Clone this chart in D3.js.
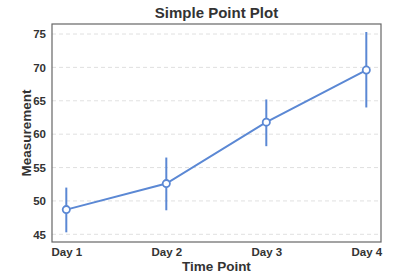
<!DOCTYPE html>
<html>
<head>
<meta charset="utf-8">
<script src="https://cdn.jsdelivr.net/npm/d3@7"></script>
<style>
  body { margin: 0; background: #fff; }
  text { font-family: "Liberation Sans", Arial, sans-serif; }
</style>
</head>
<body>
<svg id="chart" width="400" height="280"></svg>
<script>
// data
const days = ["Day 1", "Day 2", "Day 3", "Day 4"];
const means = [48.7, 52.6, 61.8, 69.6];
const lows = [45.3, 48.6, 58.2, 64.0];
const highs = [52.0, 56.5, 65.2, 75.3];
const yTicks = [45, 50, 55, 60, 65, 70, 75];

const svg = d3.select("#chart");
const margin = { left: 52, right: 19, top: 24, bottom: 38 };
const width = 400 - margin.left - margin.right,
  height = 280 - margin.top - margin.bottom;
const color = "#5b88d4";

const g = svg.append("g").attr("transform", `translate(${margin.left},${margin.top})`);

// x: categories with a small margin on each side
const x = d3.scaleLinear().domain([-0.143, 3.147]).range([0, width]);
const y = d3.scaleLinear().domain([43.85, 76.5]).range([height, 0]);

// grid lines
g.selectAll("line.grid")
  .data(yTicks)
  .join("line")
  .attr("class", "grid")
  .attr("x1", 0).attr("x2", width)
  .attr("y1", d => y(d)).attr("y2", d => y(d))
  .attr("stroke", "#d8d8d8")
  .attr("stroke-dasharray", "4,3")
  .attr("stroke-width", 0.8);

// axes
const yAxis = g.append("g").call(d3.axisLeft(y).tickValues(yTicks).tickSize(0).tickPadding(6));
const xAxis = g.append("g").attr("transform", `translate(0,${height})`)
  .call(d3.axisBottom(x).tickValues(d3.range(days.length)).tickFormat(i => days[i]).tickSize(0).tickPadding(6));
[yAxis, xAxis].forEach(a => {
  a.select(".domain").remove();
  a.selectAll("text").attr("fill", "#333").style("font-size", "11.5px").style("font-weight", "bold");
});

// frame
g.append("rect").attr("width", width).attr("height", height)
  .attr("fill", "none").attr("stroke", "#666").attr("stroke-width", 1.2);

// error bars
g.selectAll("line.err")
  .data(days)
  .join("line")
  .attr("class", "err")
  .attr("x1", (d, i) => x(i)).attr("x2", (d, i) => x(i))
  .attr("y1", (d, i) => y(lows[i])).attr("y2", (d, i) => y(highs[i]))
  .attr("stroke", color).attr("stroke-width", 2);

// connecting line
g.append("path")
  .datum(means)
  .attr("d", d3.line().x((d, i) => x(i)).y(d => y(d)))
  .attr("fill", "none").attr("stroke", color).attr("stroke-width", 2);

// points
g.selectAll("circle")
  .data(means)
  .join("circle")
  .attr("cx", (d, i) => x(i)).attr("cy", d => y(d))
  .attr("r", 3.6)
  .attr("fill", "#fff").attr("stroke", color).attr("stroke-width", 1.8);

// title and labels
svg.append("text").attr("x", margin.left + width / 2).attr("y", 18)
  .attr("text-anchor", "middle").attr("fill", "#333")
  .style("font-size", "15px").style("font-weight", "bold").text("Simple Point Plot");
svg.append("text").attr("x", margin.left + width / 2).attr("y", 271)
  .attr("text-anchor", "middle").attr("fill", "#333")
  .style("font-size", "13.5px").style("font-weight", "bold").text("Time Point");
svg.append("text").attr("transform", `translate(31,${margin.top + height / 2}) rotate(-90)`)
  .attr("text-anchor", "middle").attr("fill", "#333")
  .style("font-size", "13.5px").style("font-weight", "bold").text("Measurement");
</script>
</body>
</html>
